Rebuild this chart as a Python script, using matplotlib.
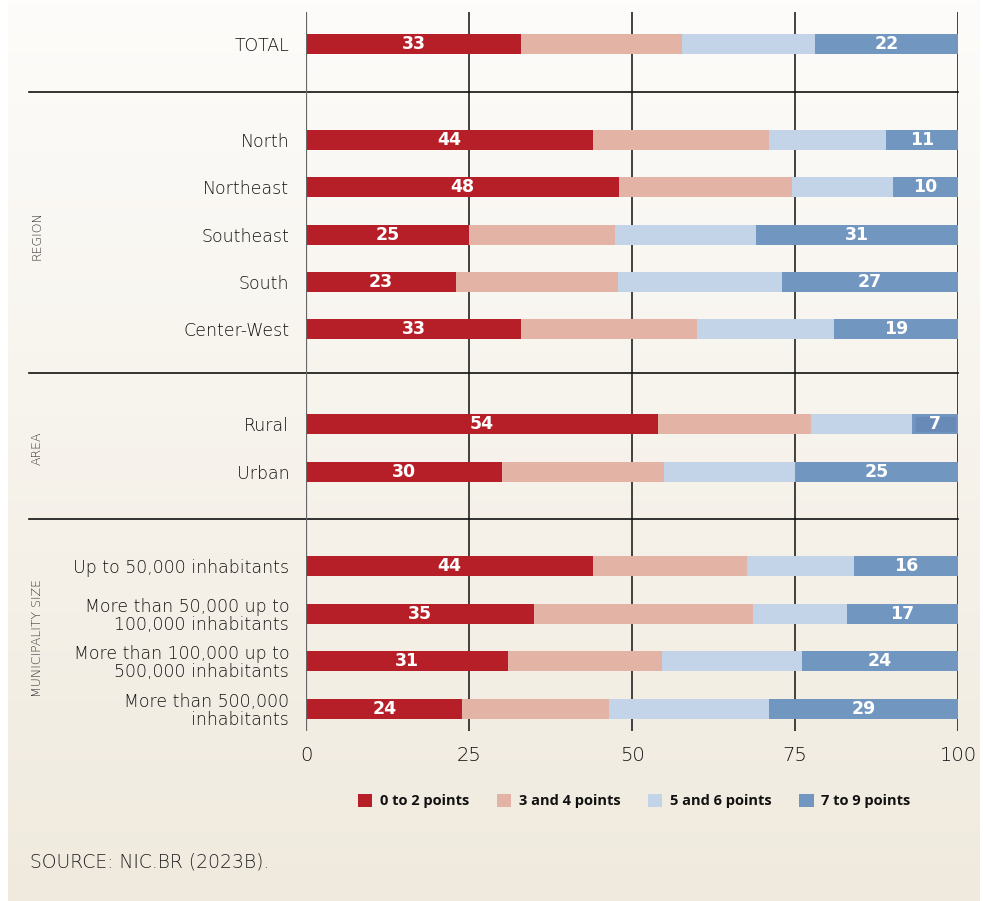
import numpy as np
import matplotlib.pyplot as plt
from matplotlib.patches import Rectangle

plt.rcParams['font.family'] = ['Open Sans', 'DejaVu Sans']

categories = ['TOTAL', 'North', 'Northeast', 'Southeast', 'South', 'Center-West',
              'Rural', 'Urban', 'Up to 50,000 inhabitants',
              'More than 50,000 up to\n100,000 inhabitants',
              'More than 100,000 up to\n500,000 inhabitants',
              'More than 500,000\ninhabitants']
s0_2 = [33, 44, 48, 25, 23, 33, 54, 30, 44, 35, 31, 24]
s3_4 = [24.7, 27, 26.5, 22.4, 24.8, 27, 23.5, 24.9, 23.6, 33.6, 23.6, 22.5]
s5_6 = [20.3, 18, 15.5, 21.6, 25.2, 21, 15.5, 20.1, 16.4, 14.4, 21.4, 24.5]
s7_9 = [22, 11, 10, 31, 27, 19, 7, 25, 16, 17, 24, 29]
series_names = ['0 to 2 points', '3 and 4 points', '5 and 6 points', '7 to 9 points']
colors = ['#b71f28', '#e3b4a5', '#c3d3e8', '#7196c0']

# layout in pixel rows (figure is 983 x 901)
ypos = [44, 140, 187, 235, 282, 329, 424, 472, 566, 614, 661, 709]
seps = [92, 373, 519]
groups = [('REGION', 236), ('AREA', 448), ('MUNICIPALITY SIZE', 638)]

W, H = 983, 901
fig = plt.figure(figsize=(W / 100, H / 100), dpi=100)
fig.patch.set_facecolor('white')

# background gradient panel
bg = fig.add_axes([8 / W, 0, (980 - 8) / W, 1])
grad = np.linspace(0, 1, 256).reshape(-1, 1)
top = np.array([253, 252, 250]) / 255
bot = np.array([240, 234, 222]) / 255
img = top + (bot - top) * grad[..., None]
bg.imshow(img, aspect='auto', extent=[0, 1, 0, 1], origin='upper')
bg.axis('off')

ax = fig.add_axes([306 / W, (H - 731) / H, (958 - 306) / W, (731 - 12) / H])
ax.patch.set_alpha(0)
ax.set_xlim(0, 100)
ax.set_ylim(731, 12)

left = np.zeros(len(categories))
for vals, c, name in zip([s0_2, s3_4, s5_6, s7_9], colors, series_names):
    ax.barh(ypos, vals, left=left, height=20, color=c, label=name, zorder=3)
    left += np.array(vals)

# value labels on first and last segments
for y, a, d in zip(ypos, s0_2, s7_9):
    ax.text(a / 2, y, str(a), color='white', fontsize=12.5, fontweight='bold',
            family='DejaVu Sans', ha='center', va='center', zorder=5)
    if d < 9:
        ax.add_patch(Rectangle((100 - d + 0.5, y - 7), d - 0.9, 14,
                               color='#678ab7', zorder=4))
    ax.text(100 - d / 2, y, str(d), color='white', fontsize=12.5, fontweight='bold',
            family='DejaVu Sans', ha='center', va='center', zorder=5)

for x in [25, 50, 75, 100]:
    ax.axvline(x, color='#222222', lw=1.2, zorder=1)
ax.axvline(0, color='#666666', lw=1.6, zorder=6)

for s in seps:
    ax.plot([(29 - 306) / 6.52, 100], [s, s], color='#111111', lw=1.2,
            clip_on=False, zorder=2)

for sp in ax.spines.values():
    sp.set_visible(False)
ax.set_yticks(ypos)
ax.set_yticklabels(categories, fontsize=12.5, color='#111111', linespacing=1.0,
                   family='DejaVu Sans', fontweight='light')
ax.tick_params(axis='y', length=0, pad=12)
ax.set_xticks([0, 25, 50, 75, 100])
ax.set_xticklabels(['0', '25', '50', '75', '100'], fontsize=14, color='#111111',
                   family='DejaVu Sans', fontweight='light')
ax.tick_params(axis='x', length=0, pad=11)

for name, yc in groups:
    fig.text(37 / W, 1 - yc / H, name, rotation=90, ha='center', va='center',
             fontsize=9, color='#333333', family='DejaVu Sans', fontweight='light')

leg = fig.legend(loc='center', bbox_to_anchor=(634 / W, 1 - 801 / H), ncol=4,
                 frameon=False, handlelength=1.0, handleheight=1.0,
                 handletextpad=0.5, columnspacing=1.9,
                 prop={'size': 10.5, 'weight': 'bold'})
for t in leg.get_texts():
    t.set_color('#111111')

fig.text(30 / W, 1 - 862 / H, 'SOURCE: NIC.BR (2023B).', ha='left', va='center',
         fontsize=13.5, color='#222222', family='DejaVu Sans', fontweight='light')

fig.savefig('out.png', dpi=100)
